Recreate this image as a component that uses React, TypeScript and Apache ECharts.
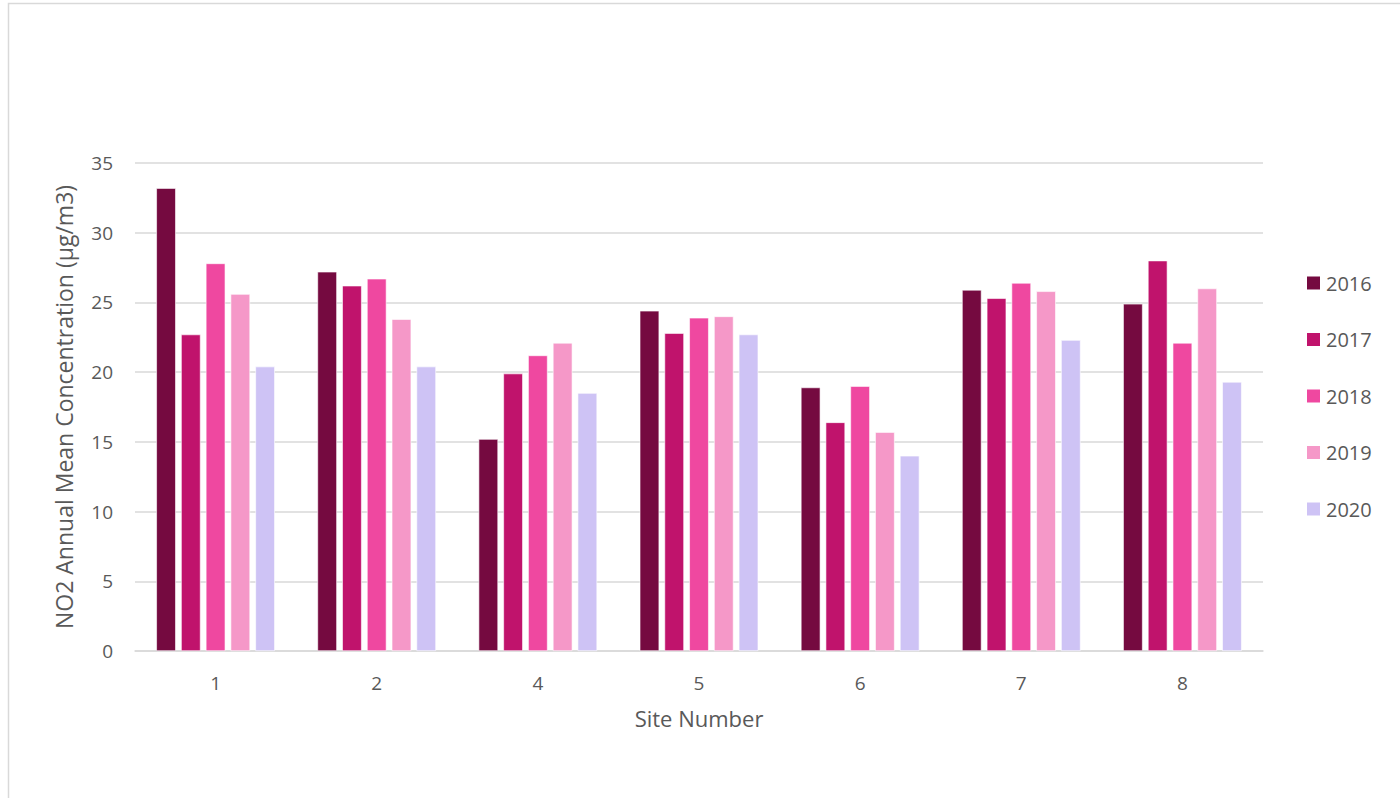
import React, { useEffect, useRef } from "react";
import * as echarts from "echarts";

// Site numbers along the x axis
const sites = ["1", "2", "4", "5", "6", "7", "8"];

// NO2 annual mean concentration (µg/m3) per site, by year
const years = ["2016", "2017", "2018", "2019", "2020"];
const values2016 = [33.2, 27.2, 15.2, 24.4, 18.9, 25.9, 24.9];
const values2017 = [22.7, 26.2, 19.9, 22.8, 16.4, 25.3, 28.0];
const values2018 = [27.8, 26.7, 21.2, 23.9, 19.0, 26.4, 22.1];
const values2019 = [25.6, 23.8, 22.1, 24.0, 15.7, 25.8, 26.0];
const values2020 = [20.4, 20.4, 18.5, 22.7, 14.0, 22.3, 19.3];

const yearColors = ["#750a40", "#c0136c", "#ef48a0", "#f598c8", "#cec3f5"];

const FONT = "'Open Sans', 'Noto Sans', sans-serif";
const TEXT = "#595959";

export default function App() {
  const ref = useRef<HTMLDivElement>(null);

  useEffect(() => {
    if (!ref.current) return;
    const chart = echarts.init(ref.current, null, { renderer: "svg" });
    const seriesData = [values2016, values2017, values2018, values2019, values2020];

    chart.setOption({
      animation: false,
      backgroundColor: "#ffffff",
      textStyle: { fontFamily: FONT },
      grid: { left: 135, right: 137, top: 163, bottom: 147 },
      legend: {
        orient: "vertical",
        left: 1300,
        top: 268,
        itemWidth: 15,
        itemHeight: 15,
        itemGap: 36.5,
        icon: "rect",
        data: years,
        textStyle: { color: TEXT, fontSize: 20, fontFamily: FONT },
      },
      xAxis: {
        type: "category",
        data: sites,
        name: "Site Number",
        nameLocation: "middle",
        nameGap: 56,
        nameTextStyle: { color: TEXT, fontSize: 22, fontFamily: FONT },
        axisLine: { lineStyle: { color: "#d9d9d9", width: 1.5 } },
        axisTick: { show: false },
        axisLabel: { color: TEXT, fontSize: 19, margin: 22, fontFamily: FONT },
      },
      yAxis: {
        type: "value",
        min: 0,
        max: 35,
        interval: 5,
        name: "NO2 Annual Mean Concentration (µg/m3)",
        nameLocation: "middle",
        nameGap: 60,
        nameTextStyle: { color: TEXT, fontSize: 23, fontFamily: FONT },
        axisLine: { show: false },
        axisTick: { show: false },
        axisLabel: { color: TEXT, fontSize: 19, margin: 22, fontFamily: FONT },
        splitLine: { lineStyle: { color: "#d9d9d9", width: 1.5 } },
      },
      series: years.map((y, i) => ({
        name: y,
        type: "bar",
        data: seriesData[i],
        barWidth: 19.5,
        barGap: "27%",
        itemStyle: { color: yearColors[i], borderColor: "#ffffff", borderWidth: 0.6 },
      })),
      graphic: [
        {
          type: "rect",
          shape: { x: 8.5, y: 3.5, width: 1420, height: 820 },
          style: { fill: "none", stroke: "#d9d9d9", lineWidth: 1.5 },
          silent: true,
        },
      ],
    });

    return () => chart.dispose();
  }, []);

  return (
    <div
      ref={ref}
      style={{ position: "absolute", left: 0, top: 0, width: 1400, height: 798 }}
    />
  );
}
